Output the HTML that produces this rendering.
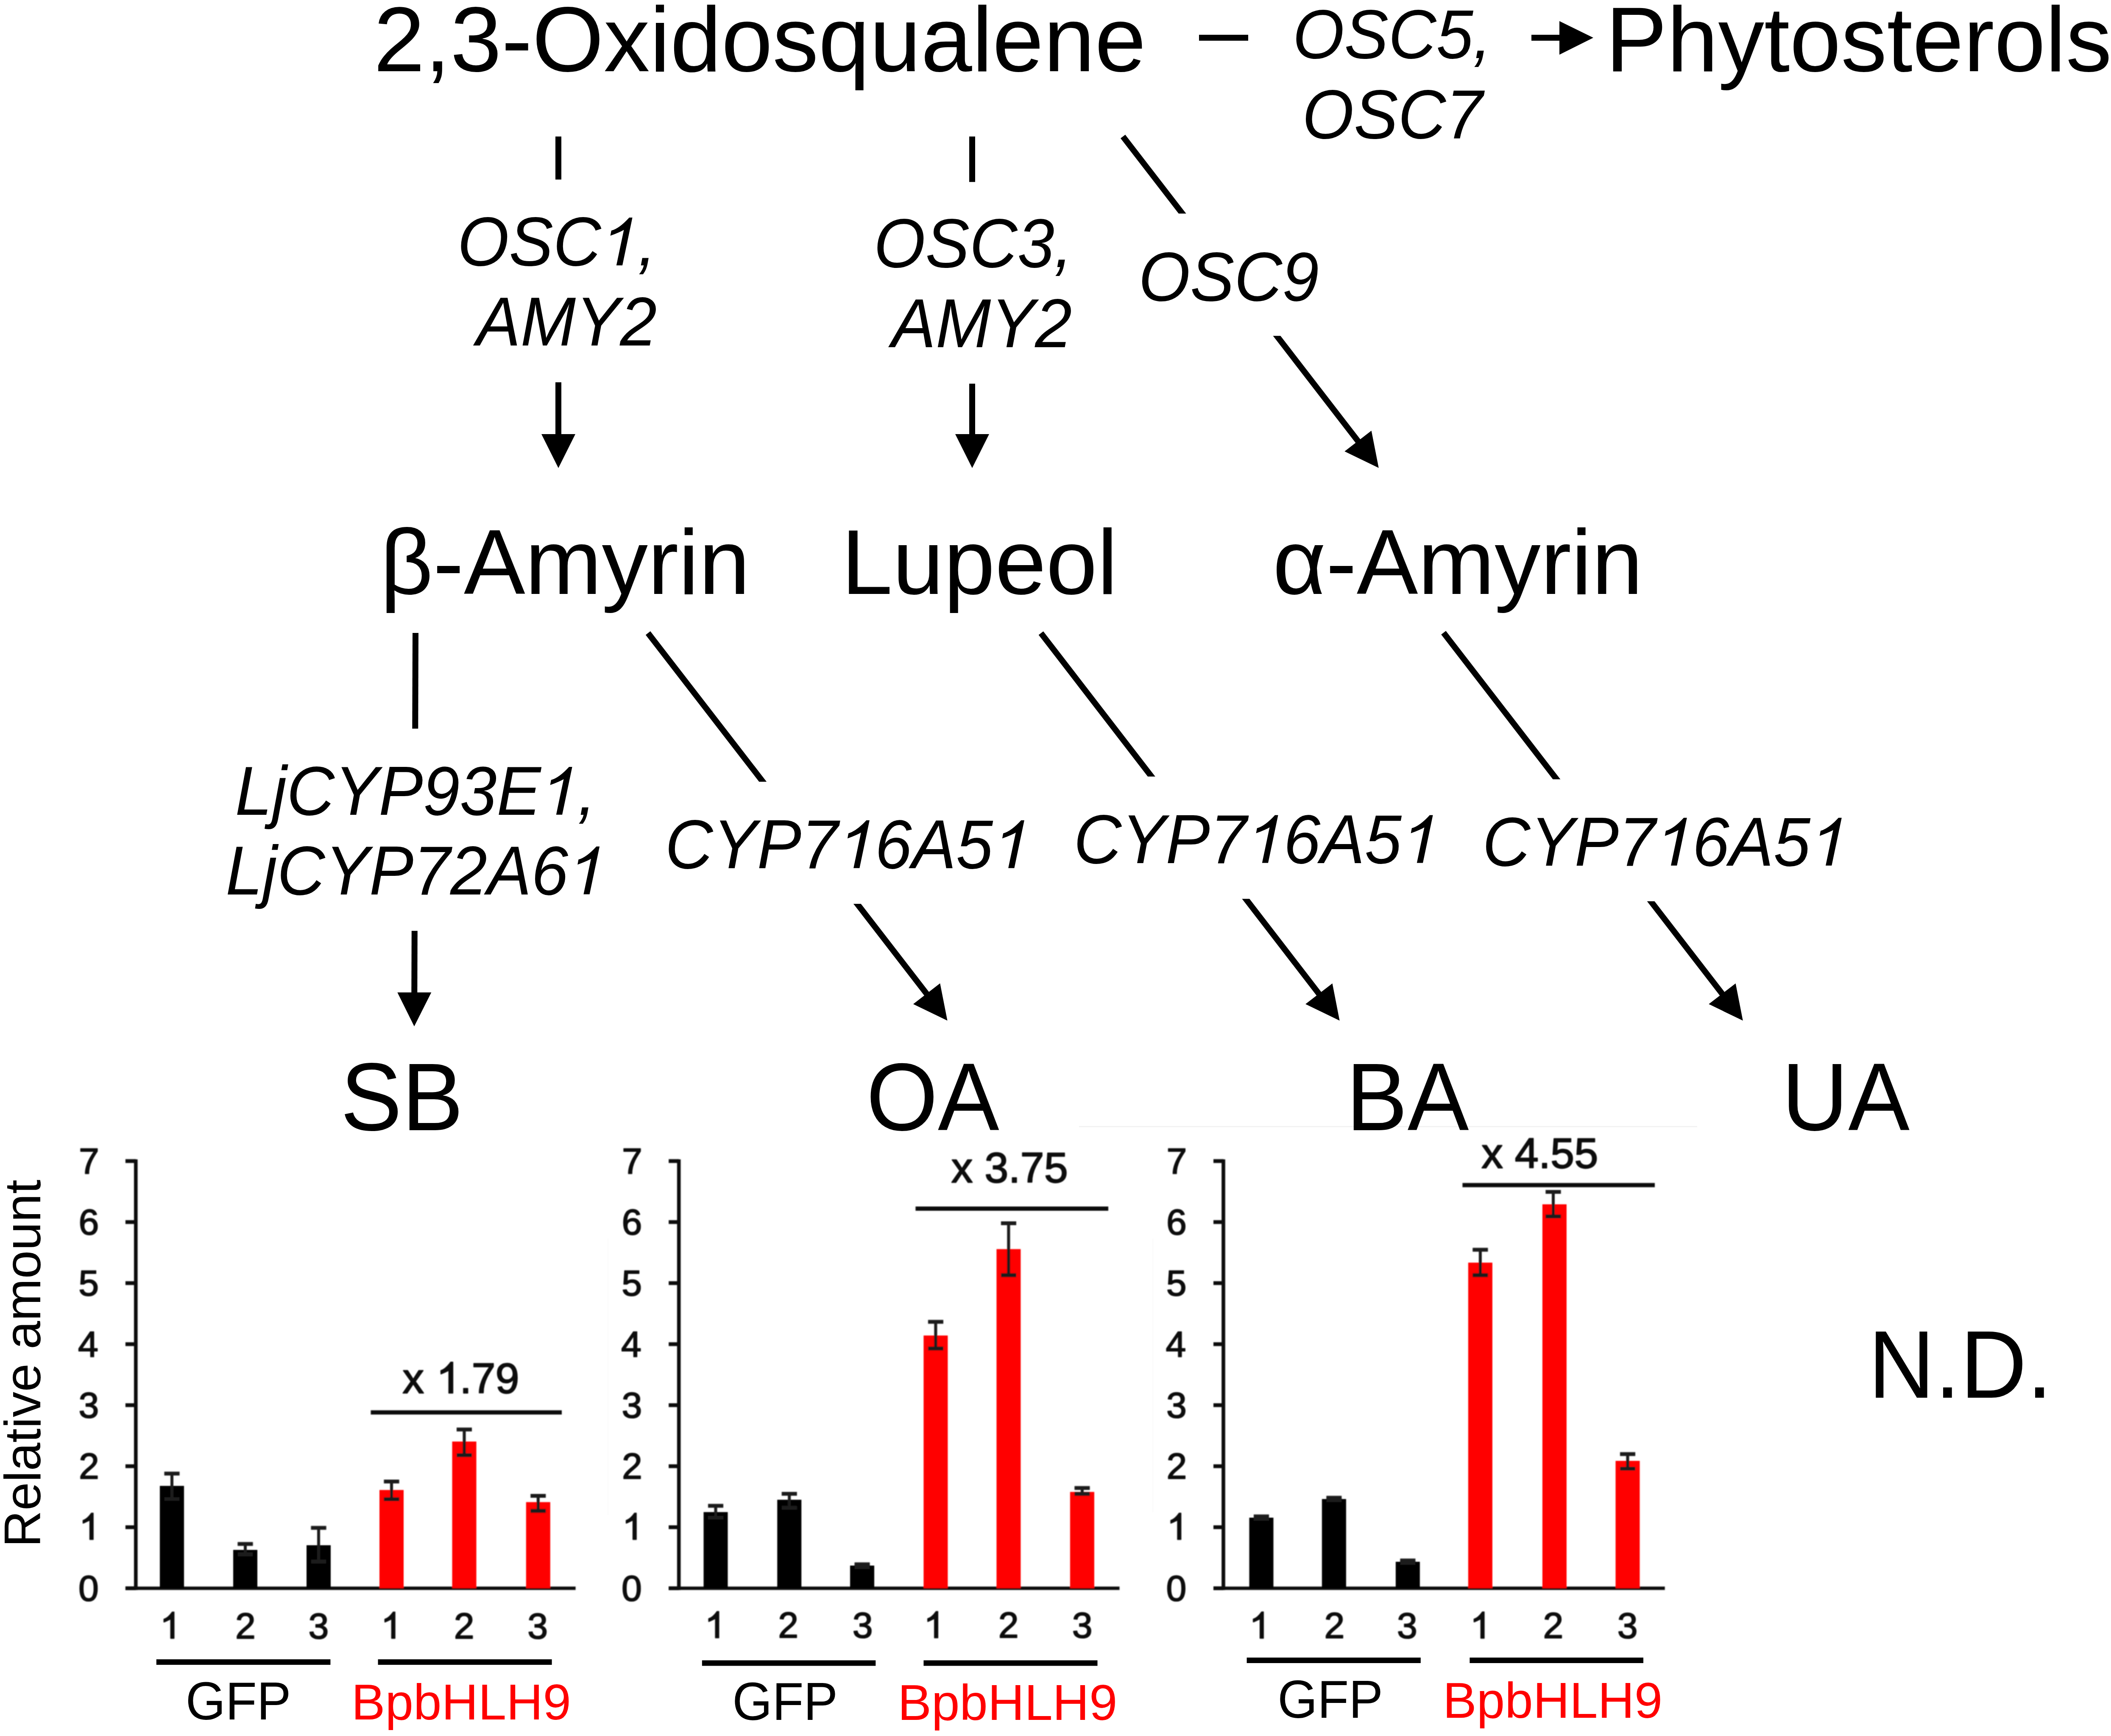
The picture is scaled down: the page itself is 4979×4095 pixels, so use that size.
<!DOCTYPE html>
<html><head><meta charset="utf-8"><style>
html,body{margin:0;padding:0;background:#fff;}
svg{position:absolute;left:0;top:0;display:block;}
text{font-family:"Liberation Sans",sans-serif;}
</style></head><body>
<svg width="4979" height="4095" viewBox="0 0 4979 4095">
<defs><clipPath id="c0"><rect x="0" y="300.0" width="4979" height="123.4"/><rect x="0" y="901.8" width="4979" height="298.2"/></clipPath><clipPath id="c1"><rect x="0" y="300.0" width="4979" height="129.3"/><rect x="0" y="905.0" width="4979" height="295.0"/></clipPath><clipPath id="c2"><rect x="0" y="300.0" width="4979" height="203.8"/><rect x="0" y="792.3" width="4979" height="407.7"/></clipPath><clipPath id="c3"><rect x="0" y="1480.0" width="4979" height="238.7"/><rect x="0" y="2195.8" width="4979" height="304.2"/></clipPath><clipPath id="c4"><rect x="0" y="1480.0" width="4979" height="364.1"/><rect x="0" y="2132.0" width="4979" height="368.0"/></clipPath><clipPath id="c5"><rect x="0" y="1480.0" width="4979" height="351.8"/><rect x="0" y="2120.3" width="4979" height="379.7"/></clipPath><clipPath id="c6"><rect x="0" y="1480.0" width="4979" height="358.2"/><rect x="0" y="2125.9" width="4979" height="374.1"/></clipPath><filter id="soft" x="-2%" y="-2%" width="104%" height="104%"><feGaussianBlur stdDeviation="1.3"/></filter></defs>
<rect width="4979" height="4095" fill="#fff"/>
<rect x="2828.0" y="82.0" width="116.0" height="14.0" fill="#000"/>
<rect x="3612.0" y="82.0" width="70.0" height="14.0" fill="#000"/>
<polygon points="3758,89 3678,49.8 3678,129" fill="#000"/>
<g clip-path="url(#c0)"><line x1="1317.0" y1="322.0" x2="1317.0" y2="1026.0" stroke="#000" stroke-width="14"/><polygon points="1317.0,1104.0 1277.0,1024.0 1357.0,1024.0" fill="#000"/></g>
<g clip-path="url(#c1)"><line x1="2293.0" y1="322.0" x2="2293.0" y2="1026.0" stroke="#000" stroke-width="14"/><polygon points="2293.0,1104.0 2253.0,1024.0 2333.0,1024.0" fill="#000"/></g>
<g clip-path="url(#c2)"><line x1="2648.5" y1="322.0" x2="3204.1" y2="1042.0" stroke="#000" stroke-width="14"/><polygon points="3251.8,1103.7 3171.3,1064.8 3234.6,1015.9" fill="#000"/></g>
<g clip-path="url(#c3)"><line x1="980.0" y1="1493.0" x2="977.3" y2="2343.0" stroke="#000" stroke-width="14"/><polygon points="977.0,2421.0 937.3,2340.9 1017.3,2341.1" fill="#000"/></g>
<g clip-path="url(#c4)"><line x1="1528.4" y1="1493.4" x2="2186.8" y2="2345.7" stroke="#000" stroke-width="14"/><polygon points="2234.5,2407.4 2153.9,2368.5 2217.2,2319.6" fill="#000"/></g>
<g clip-path="url(#c5)"><line x1="2455.2" y1="1493.4" x2="3112.0" y2="2345.7" stroke="#000" stroke-width="14"/><polygon points="3159.6,2407.5 3079.1,2368.5 3142.5,2319.7" fill="#000"/></g>
<g clip-path="url(#c6)"><line x1="3404.7" y1="1492.5" x2="4063.1" y2="2345.7" stroke="#000" stroke-width="14"/><polygon points="4110.8,2407.5 4030.3,2368.6 4093.6,2319.7" fill="#000"/></g>
<rect x="2545.0" y="2656.0" width="1458.0" height="3.0" fill="#f3f3f3"/>
<rect x="1433.5" y="2922.0" width="1.5" height="652.0" fill="#f9f9f9"/>
<rect x="2718.5" y="2922.0" width="1.5" height="645.0" fill="#f9f9f9"/>
<rect x="368.8" y="3914.1" width="410.6" height="13.0" fill="#000"/>
<rect x="891.5" y="3914.1" width="410.1" height="13.0" fill="#000"/>
<rect x="1655.8" y="3916.5" width="409.5" height="13.0" fill="#000"/>
<rect x="2178.4" y="3916.5" width="410.1" height="13.0" fill="#000"/>
<rect x="2940.6" y="3910.0" width="410.2" height="13.0" fill="#000"/>
<rect x="3466.4" y="3910.0" width="409.6" height="13.0" fill="#000"/>
<g transform="translate(881.3,167.5) scale(1,1.0)"><text x="0" y="0" font-size="217" fill="#000">2,3-Oxidosqualene</text></g>
<g transform="translate(3787.0,167.8) scale(1,1.0)"><text x="0" y="0" font-size="217" fill="#000">Phytosterols</text></g>
<g transform="translate(896.8,1400.7) scale(1,1.0)"><text x="0" y="0" font-size="217" fill="#000">β-Amyrin</text></g>
<g transform="translate(1984.6,1400.7) scale(1,1.0)"><text x="0" y="0" font-size="217" fill="#000">Lupeol</text></g>
<g transform="translate(3002.0,1400.7) scale(1,1.0)"><text x="0" y="0" font-size="217" fill="#000">α-Amyrin</text></g>
<g transform="translate(803.2,2665.7) scale(1,1.04)"><text x="0" y="0" font-size="217" fill="#000">SB</text></g>
<g transform="translate(2043.3,2665.5) scale(1,1.04)"><text x="0" y="0" font-size="217" fill="#000">OA</text></g>
<g transform="translate(3175.0,2665.7) scale(1,1.04)"><text x="0" y="0" font-size="217" fill="#000">BA</text></g>
<g transform="translate(4202.5,2665.7) scale(1,1.04)"><text x="0" y="0" font-size="217" fill="#000">UA</text></g>
<g transform="translate(4406.6,3296.6) scale(1,1.04)"><text x="0" y="0" font-size="217" fill="#000">N.D.</text></g>
<g transform="translate(3049.0,137.0) scale(1,1.04)"><text x="0" y="0" font-size="156.3" font-style="italic" fill="#000">OSC5,</text></g>
<g transform="translate(3071.6,325.6) scale(1,1.04)"><text x="0" y="0" font-size="156.3" font-style="italic" fill="#000">OSC7</text></g>
<g transform="translate(1079.0,626.0) scale(1,1.04)"><text x="0" y="0" font-size="156.3" font-style="italic" fill="#000">OSC&#x2007;,</text><path transform="translate(338.70,0) scale(0.07632,-0.07338)" d="M473,0 L659,0 L968,1478 L870,1478 Q567,1144 316,1073 L287,916 Q596,1031 704,1097 Z" fill="#000"/></g>
<g transform="translate(1123.6,814.6) scale(1,1.04)"><text x="0" y="0" font-size="156.3" font-style="italic" fill="#000">AMY2</text></g>
<g transform="translate(2061.0,630.0) scale(1,1.04)"><text x="0" y="0" font-size="156.3" font-style="italic" fill="#000">OSC3,</text></g>
<g transform="translate(2102.7,819.0) scale(1,1.04)"><text x="0" y="0" font-size="156.3" font-style="italic" fill="#000">AMY2</text></g>
<g transform="translate(2685.4,708.5) scale(1,1.04)"><text x="0" y="0" font-size="156.3" font-style="italic" fill="#000">OSC9</text></g>
<g transform="translate(554.6,1921.7) scale(1,1.04)"><text x="0" y="0" font-size="156.3" font-style="italic" fill="#000">LjCYP93E&#x2007;,</text><path transform="translate(721.13,0) scale(0.07632,-0.07338)" d="M473,0 L659,0 L968,1478 L870,1478 Q567,1144 316,1073 L287,916 Q596,1031 704,1097 Z" fill="#000"/></g>
<g transform="translate(532.2,2109.5) scale(1,1.04)"><text x="0" y="0" font-size="156.3" font-style="italic" fill="#000">LjCYP72A6&#x2007;</text><path transform="translate(808.06,0) scale(0.07632,-0.07338)" d="M473,0 L659,0 L968,1478 L870,1478 Q567,1144 316,1073 L287,916 Q596,1031 704,1097 Z" fill="#000"/></g>
<g transform="translate(1568.7,2047.7) scale(1,1.04)"><text x="0" y="0" font-size="156.3" font-style="italic" fill="#000">CYP7&#x2007;6A5&#x2007;</text><path transform="translate(408.30,0) scale(0.07632,-0.07338)" d="M473,0 L659,0 L968,1478 L870,1478 Q567,1144 316,1073 L287,916 Q596,1031 704,1097 Z" fill="#000"/><path transform="translate(773.33,0) scale(0.07632,-0.07338)" d="M473,0 L659,0 L968,1478 L870,1478 Q567,1144 316,1073 L287,916 Q596,1031 704,1097 Z" fill="#000"/></g>
<g transform="translate(2532.4,2035.5) scale(1,1.04)"><text x="0" y="0" font-size="156.3" font-style="italic" fill="#000">CYP7&#x2007;6A5&#x2007;</text><path transform="translate(408.30,0) scale(0.07632,-0.07338)" d="M473,0 L659,0 L968,1478 L870,1478 Q567,1144 316,1073 L287,916 Q596,1031 704,1097 Z" fill="#000"/><path transform="translate(773.33,0) scale(0.07632,-0.07338)" d="M473,0 L659,0 L968,1478 L870,1478 Q567,1144 316,1073 L287,916 Q596,1031 704,1097 Z" fill="#000"/></g>
<g transform="translate(3496.6,2041.7) scale(1,1.04)"><text x="0" y="0" font-size="156.3" font-style="italic" fill="#000">CYP7&#x2007;6A5&#x2007;</text><path transform="translate(408.30,0) scale(0.07632,-0.07338)" d="M473,0 L659,0 L968,1478 L870,1478 Q567,1144 316,1073 L287,916 Q596,1031 704,1097 Z" fill="#000"/><path transform="translate(773.33,0) scale(0.07632,-0.07338)" d="M473,0 L659,0 L968,1478 L870,1478 Q567,1144 316,1073 L287,916 Q596,1031 704,1097 Z" fill="#000"/></g>
<g transform="translate(437.7,4056.4) scale(1,1.04)"><text x="0" y="0" font-size="121" fill="#000">GFP</text></g>
<g transform="translate(828.8,4056.4) scale(1,1.0)"><text x="0" y="0" font-size="119.5" fill="#ff0000">BpbHLH9</text></g>
<g transform="translate(1727.3,4057.0) scale(1,1.04)"><text x="0" y="0" font-size="121" fill="#000">GFP</text></g>
<g transform="translate(2117.2,4057.0) scale(1,1.0)"><text x="0" y="0" font-size="119.5" fill="#ff0000">BpbHLH9</text></g>
<g transform="translate(3013.2,4052.0) scale(1,1.04)"><text x="0" y="0" font-size="121" fill="#000">GFP</text></g>
<g transform="translate(3403.1,4052.0) scale(1,1.0)"><text x="0" y="0" font-size="119.5" fill="#ff0000">BpbHLH9</text></g>
<text x="0" y="0" font-size="120" fill="#000" transform="translate(94.7,3649.7) rotate(-90)">Relative amount</text>
<g filter="url(#soft)">
<rect x="316.0" y="2734.8" width="8.6" height="1015.7" fill="#111"/>
<rect x="295.9" y="3742.5" width="1061.7" height="8.0" fill="#111"/>
<rect x="295.9" y="3742.0" width="24.4" height="9.0" fill="#111"/>
<rect x="295.9" y="3598.0" width="24.4" height="9.0" fill="#111"/>
<rect x="295.9" y="3454.1" width="24.4" height="9.0" fill="#111"/>
<rect x="295.9" y="3310.1" width="24.4" height="9.0" fill="#111"/>
<rect x="295.9" y="3166.2" width="24.4" height="9.0" fill="#111"/>
<rect x="295.9" y="3022.2" width="24.4" height="9.0" fill="#111"/>
<rect x="295.9" y="2878.2" width="24.4" height="9.0" fill="#111"/>
<rect x="295.9" y="2734.3" width="24.4" height="9.0" fill="#111"/>
<rect x="377.0" y="3505.0" width="57.0" height="241.5" fill="#000"/>
<rect x="550.0" y="3656.0" width="57.0" height="90.5" fill="#000"/>
<rect x="723.0" y="3645.0" width="57.0" height="101.5" fill="#000"/>
<rect x="895.0" y="3514.7" width="57.0" height="231.8" fill="#ff0000"/>
<rect x="1066.5" y="3400.4" width="57.0" height="346.1" fill="#ff0000"/>
<rect x="1240.8" y="3543.3" width="57.0" height="203.2" fill="#ff0000"/>
<rect x="402.0" y="3476.0" width="7.0" height="60.0" fill="#1a1a1a"/>
<rect x="387.5" y="3471.5" width="36.0" height="9.0" fill="#1a1a1a"/>
<rect x="387.5" y="3531.5" width="36.0" height="9.0" fill="#1a1a1a"/>
<rect x="575.0" y="3642.0" width="7.0" height="24.5" fill="#1a1a1a"/>
<rect x="560.5" y="3637.5" width="36.0" height="9.0" fill="#1a1a1a"/>
<rect x="560.5" y="3662.0" width="36.0" height="9.0" fill="#1a1a1a"/>
<rect x="748.0" y="3604.0" width="7.0" height="79.5" fill="#1a1a1a"/>
<rect x="733.5" y="3599.5" width="36.0" height="9.0" fill="#1a1a1a"/>
<rect x="733.5" y="3679.0" width="36.0" height="9.0" fill="#1a1a1a"/>
<rect x="920.0" y="3494.7" width="7.0" height="41.7" fill="#1a1a1a"/>
<rect x="905.5" y="3490.2" width="36.0" height="9.0" fill="#1a1a1a"/>
<rect x="905.5" y="3531.9" width="36.0" height="9.0" fill="#1a1a1a"/>
<rect x="1091.5" y="3372.0" width="7.0" height="60.6" fill="#1a1a1a"/>
<rect x="1077.0" y="3367.5" width="36.0" height="9.0" fill="#1a1a1a"/>
<rect x="1077.0" y="3428.1" width="36.0" height="9.0" fill="#1a1a1a"/>
<rect x="1265.8" y="3528.5" width="7.0" height="35.5" fill="#1a1a1a"/>
<rect x="1251.3" y="3524.0" width="36.0" height="9.0" fill="#1a1a1a"/>
<rect x="1251.3" y="3559.5" width="36.0" height="9.0" fill="#1a1a1a"/>
<rect x="874.5" y="3326.7" width="450.5" height="10.0" fill="#111"/>
<rect x="1596.9" y="2734.8" width="8.6" height="1015.7" fill="#111"/>
<rect x="1577.2" y="3742.5" width="1063.3" height="8.0" fill="#111"/>
<rect x="1577.2" y="3742.0" width="24.0" height="9.0" fill="#111"/>
<rect x="1577.2" y="3598.0" width="24.0" height="9.0" fill="#111"/>
<rect x="1577.2" y="3454.1" width="24.0" height="9.0" fill="#111"/>
<rect x="1577.2" y="3310.1" width="24.0" height="9.0" fill="#111"/>
<rect x="1577.2" y="3166.2" width="24.0" height="9.0" fill="#111"/>
<rect x="1577.2" y="3022.2" width="24.0" height="9.0" fill="#111"/>
<rect x="1577.2" y="2878.2" width="24.0" height="9.0" fill="#111"/>
<rect x="1577.2" y="2734.3" width="24.0" height="9.0" fill="#111"/>
<rect x="1659.5" y="3566.8" width="57.0" height="179.7" fill="#000"/>
<rect x="1833.2" y="3537.7" width="57.0" height="208.8" fill="#000"/>
<rect x="2005.0" y="3693.0" width="57.0" height="53.5" fill="#000"/>
<rect x="2178.4" y="3150.3" width="57.0" height="596.2" fill="#ff0000"/>
<rect x="2350.4" y="2946.5" width="57.0" height="800.0" fill="#ff0000"/>
<rect x="2523.9" y="3519.3" width="57.0" height="227.2" fill="#ff0000"/>
<rect x="1684.5" y="3552.0" width="7.0" height="28.0" fill="#1a1a1a"/>
<rect x="1670.0" y="3547.5" width="36.0" height="9.0" fill="#1a1a1a"/>
<rect x="1670.0" y="3575.5" width="36.0" height="9.0" fill="#1a1a1a"/>
<rect x="1858.2" y="3523.7" width="7.0" height="32.9" fill="#1a1a1a"/>
<rect x="1843.7" y="3519.2" width="36.0" height="9.0" fill="#1a1a1a"/>
<rect x="1843.7" y="3552.1" width="36.0" height="9.0" fill="#1a1a1a"/>
<rect x="2030.0" y="3690.0" width="7.0" height="7.0" fill="#1a1a1a"/>
<rect x="2015.5" y="3685.5" width="36.0" height="9.0" fill="#1a1a1a"/>
<rect x="2015.5" y="3692.5" width="36.0" height="9.0" fill="#1a1a1a"/>
<rect x="2203.4" y="3118.0" width="7.0" height="63.0" fill="#1a1a1a"/>
<rect x="2188.9" y="3113.5" width="36.0" height="9.0" fill="#1a1a1a"/>
<rect x="2188.9" y="3176.5" width="36.0" height="9.0" fill="#1a1a1a"/>
<rect x="2375.4" y="2885.5" width="7.0" height="122.5" fill="#1a1a1a"/>
<rect x="2360.9" y="2881.0" width="36.0" height="9.0" fill="#1a1a1a"/>
<rect x="2360.9" y="3003.5" width="36.0" height="9.0" fill="#1a1a1a"/>
<rect x="2548.9" y="3510.0" width="7.0" height="14.0" fill="#1a1a1a"/>
<rect x="2534.4" y="3505.5" width="36.0" height="9.0" fill="#1a1a1a"/>
<rect x="2534.4" y="3519.5" width="36.0" height="9.0" fill="#1a1a1a"/>
<rect x="2159.4" y="2846.0" width="454.6" height="10.0" fill="#111"/>
<rect x="2881.2" y="2734.8" width="8.6" height="1015.7" fill="#111"/>
<rect x="2862.0" y="3742.5" width="1064.7" height="8.0" fill="#111"/>
<rect x="2862.0" y="3742.0" width="23.5" height="9.0" fill="#111"/>
<rect x="2862.0" y="3598.0" width="23.5" height="9.0" fill="#111"/>
<rect x="2862.0" y="3454.1" width="23.5" height="9.0" fill="#111"/>
<rect x="2862.0" y="3310.1" width="23.5" height="9.0" fill="#111"/>
<rect x="2862.0" y="3166.2" width="23.5" height="9.0" fill="#111"/>
<rect x="2862.0" y="3022.2" width="23.5" height="9.0" fill="#111"/>
<rect x="2862.0" y="2878.2" width="23.5" height="9.0" fill="#111"/>
<rect x="2862.0" y="2734.3" width="23.5" height="9.0" fill="#111"/>
<rect x="2946.5" y="3580.0" width="57.0" height="166.5" fill="#000"/>
<rect x="3117.9" y="3536.0" width="57.0" height="210.5" fill="#000"/>
<rect x="3291.9" y="3684.0" width="57.0" height="62.5" fill="#000"/>
<rect x="3462.9" y="2978.4" width="57.0" height="768.1" fill="#ff0000"/>
<rect x="3637.9" y="2840.8" width="57.0" height="905.7" fill="#ff0000"/>
<rect x="3810.5" y="3446.0" width="57.0" height="300.5" fill="#ff0000"/>
<rect x="2971.5" y="3577.0" width="7.0" height="6.0" fill="#1a1a1a"/>
<rect x="2957.0" y="3572.5" width="36.0" height="9.0" fill="#1a1a1a"/>
<rect x="2957.0" y="3578.5" width="36.0" height="9.0" fill="#1a1a1a"/>
<rect x="3142.9" y="3533.0" width="7.0" height="6.0" fill="#1a1a1a"/>
<rect x="3128.4" y="3528.5" width="36.0" height="9.0" fill="#1a1a1a"/>
<rect x="3128.4" y="3534.5" width="36.0" height="9.0" fill="#1a1a1a"/>
<rect x="3316.9" y="3681.0" width="7.0" height="6.0" fill="#1a1a1a"/>
<rect x="3302.4" y="3676.5" width="36.0" height="9.0" fill="#1a1a1a"/>
<rect x="3302.4" y="3682.5" width="36.0" height="9.0" fill="#1a1a1a"/>
<rect x="3487.9" y="2948.0" width="7.0" height="60.0" fill="#1a1a1a"/>
<rect x="3473.4" y="2943.5" width="36.0" height="9.0" fill="#1a1a1a"/>
<rect x="3473.4" y="3003.5" width="36.0" height="9.0" fill="#1a1a1a"/>
<rect x="3660.0" y="2811.5" width="7.0" height="57.8" fill="#1a1a1a"/>
<rect x="3645.5" y="2807.0" width="36.0" height="9.0" fill="#1a1a1a"/>
<rect x="3645.5" y="2864.8" width="36.0" height="9.0" fill="#1a1a1a"/>
<rect x="3835.5" y="3430.0" width="7.0" height="34.5" fill="#1a1a1a"/>
<rect x="3821.0" y="3425.5" width="36.0" height="9.0" fill="#1a1a1a"/>
<rect x="3821.0" y="3460.0" width="36.0" height="9.0" fill="#1a1a1a"/>
<rect x="3449.4" y="2790.5" width="453.6" height="10.0" fill="#111"/>
<g transform="translate(185.0,3775.5) scale(1,1.0)"><text x="0" y="0" font-size="86" fill="#111" stroke="#111" stroke-width="2.2" stroke-linejoin="round">0</text></g>
<g transform="translate(185.9,3631.5) scale(1,1.0)"><text x="0" y="0" font-size="86" fill="#111" stroke="#111" stroke-width="2.2" stroke-linejoin="round">&#x2007;</text><path transform="translate(0.00,0) scale(0.04199,-0.04199)" d="M620,0 L806,0 L805,1478 L707,1478 Q474,1144 238,1073 L242,916 Q527,1031 621,1097 Z" fill="#111" stroke="#111" stroke-width="52.4" stroke-linejoin="round"/></g>
<g transform="translate(186.1,3487.6) scale(1,1.0)"><text x="0" y="0" font-size="86" fill="#111" stroke="#111" stroke-width="2.2" stroke-linejoin="round">2</text></g>
<g transform="translate(185.4,3343.6) scale(1,1.0)"><text x="0" y="0" font-size="86" fill="#111" stroke="#111" stroke-width="2.2" stroke-linejoin="round">3</text></g>
<g transform="translate(184.1,3199.7) scale(1,1.0)"><text x="0" y="0" font-size="86" fill="#111" stroke="#111" stroke-width="2.2" stroke-linejoin="round">4</text></g>
<g transform="translate(185.2,3055.7) scale(1,1.0)"><text x="0" y="0" font-size="86" fill="#111" stroke="#111" stroke-width="2.2" stroke-linejoin="round">5</text></g>
<g transform="translate(185.4,2911.7) scale(1,1.0)"><text x="0" y="0" font-size="86" fill="#111" stroke="#111" stroke-width="2.2" stroke-linejoin="round">6</text></g>
<g transform="translate(186.1,2767.8) scale(1,1.0)"><text x="0" y="0" font-size="86" fill="#111" stroke="#111" stroke-width="2.2" stroke-linejoin="round">7</text></g>
<g transform="translate(949.6,3286.0) scale(1,1.0)"><text x="0" y="0" font-size="101" fill="#111" stroke="#111" stroke-width="2.4" stroke-linejoin="round">x &#x2007;.79</text><path transform="translate(78.56,0) scale(0.04932,-0.04932)" d="M620,0 L806,0 L805,1478 L707,1478 Q474,1144 238,1073 L242,916 Q527,1031 621,1097 Z" fill="#111" stroke="#111" stroke-width="48.7" stroke-linejoin="round"/></g>
<g transform="translate(376.6,3864.6) scale(1,1.0)"><text x="0" y="0" font-size="86" fill="#111" stroke="#111" stroke-width="2.2" stroke-linejoin="round">&#x2007;</text><path transform="translate(0.00,0) scale(0.04199,-0.04199)" d="M620,0 L806,0 L805,1478 L707,1478 Q474,1144 238,1073 L242,916 Q527,1031 621,1097 Z" fill="#111" stroke="#111" stroke-width="52.4" stroke-linejoin="round"/></g>
<g transform="translate(554.9,3864.6) scale(1,1.0)"><text x="0" y="0" font-size="86" fill="#111" stroke="#111" stroke-width="2.2" stroke-linejoin="round">2</text></g>
<g transform="translate(727.4,3864.6) scale(1,1.0)"><text x="0" y="0" font-size="86" fill="#111" stroke="#111" stroke-width="2.2" stroke-linejoin="round">3</text></g>
<g transform="translate(897.7,3864.6) scale(1,1.0)"><text x="0" y="0" font-size="86" fill="#111" stroke="#111" stroke-width="2.2" stroke-linejoin="round">&#x2007;</text><path transform="translate(0.00,0) scale(0.04199,-0.04199)" d="M620,0 L806,0 L805,1478 L707,1478 Q474,1144 238,1073 L242,916 Q527,1031 621,1097 Z" fill="#111" stroke="#111" stroke-width="52.4" stroke-linejoin="round"/></g>
<g transform="translate(1070.8,3864.6) scale(1,1.0)"><text x="0" y="0" font-size="86" fill="#111" stroke="#111" stroke-width="2.2" stroke-linejoin="round">2</text></g>
<g transform="translate(1244.3,3864.6) scale(1,1.0)"><text x="0" y="0" font-size="86" fill="#111" stroke="#111" stroke-width="2.2" stroke-linejoin="round">3</text></g>
<g transform="translate(1466.0,3775.5) scale(1,1.0)"><text x="0" y="0" font-size="86" fill="#111" stroke="#111" stroke-width="2.2" stroke-linejoin="round">0</text></g>
<g transform="translate(1466.9,3631.5) scale(1,1.0)"><text x="0" y="0" font-size="86" fill="#111" stroke="#111" stroke-width="2.2" stroke-linejoin="round">&#x2007;</text><path transform="translate(0.00,0) scale(0.04199,-0.04199)" d="M620,0 L806,0 L805,1478 L707,1478 Q474,1144 238,1073 L242,916 Q527,1031 621,1097 Z" fill="#111" stroke="#111" stroke-width="52.4" stroke-linejoin="round"/></g>
<g transform="translate(1467.1,3487.6) scale(1,1.0)"><text x="0" y="0" font-size="86" fill="#111" stroke="#111" stroke-width="2.2" stroke-linejoin="round">2</text></g>
<g transform="translate(1466.4,3343.6) scale(1,1.0)"><text x="0" y="0" font-size="86" fill="#111" stroke="#111" stroke-width="2.2" stroke-linejoin="round">3</text></g>
<g transform="translate(1465.1,3199.7) scale(1,1.0)"><text x="0" y="0" font-size="86" fill="#111" stroke="#111" stroke-width="2.2" stroke-linejoin="round">4</text></g>
<g transform="translate(1466.2,3055.7) scale(1,1.0)"><text x="0" y="0" font-size="86" fill="#111" stroke="#111" stroke-width="2.2" stroke-linejoin="round">5</text></g>
<g transform="translate(1466.4,2911.7) scale(1,1.0)"><text x="0" y="0" font-size="86" fill="#111" stroke="#111" stroke-width="2.2" stroke-linejoin="round">6</text></g>
<g transform="translate(1467.1,2767.8) scale(1,1.0)"><text x="0" y="0" font-size="86" fill="#111" stroke="#111" stroke-width="2.2" stroke-linejoin="round">7</text></g>
<g transform="translate(2243.7,2789.3) scale(1,1.0)"><text x="0" y="0" font-size="101" fill="#111" stroke="#111" stroke-width="2.4" stroke-linejoin="round">x 3.75</text></g>
<g transform="translate(1661.5,3863.4) scale(1,1.0)"><text x="0" y="0" font-size="86" fill="#111" stroke="#111" stroke-width="2.2" stroke-linejoin="round">&#x2007;</text><path transform="translate(0.00,0) scale(0.04199,-0.04199)" d="M620,0 L806,0 L805,1478 L707,1478 Q474,1144 238,1073 L242,916 Q527,1031 621,1097 Z" fill="#111" stroke="#111" stroke-width="52.4" stroke-linejoin="round"/></g>
<g transform="translate(1835.3,3863.4) scale(1,1.0)"><text x="0" y="0" font-size="86" fill="#111" stroke="#111" stroke-width="2.2" stroke-linejoin="round">2</text></g>
<g transform="translate(2010.7,3863.4) scale(1,1.0)"><text x="0" y="0" font-size="86" fill="#111" stroke="#111" stroke-width="2.2" stroke-linejoin="round">3</text></g>
<g transform="translate(2178.1,3863.4) scale(1,1.0)"><text x="0" y="0" font-size="86" fill="#111" stroke="#111" stroke-width="2.2" stroke-linejoin="round">&#x2007;</text><path transform="translate(0.00,0) scale(0.04199,-0.04199)" d="M620,0 L806,0 L805,1478 L707,1478 Q474,1144 238,1073 L242,916 Q527,1031 621,1097 Z" fill="#111" stroke="#111" stroke-width="52.4" stroke-linejoin="round"/></g>
<g transform="translate(2354.7,3863.4) scale(1,1.0)"><text x="0" y="0" font-size="86" fill="#111" stroke="#111" stroke-width="2.2" stroke-linejoin="round">2</text></g>
<g transform="translate(2528.7,3863.4) scale(1,1.0)"><text x="0" y="0" font-size="86" fill="#111" stroke="#111" stroke-width="2.2" stroke-linejoin="round">3</text></g>
<g transform="translate(2750.5,3775.5) scale(1,1.0)"><text x="0" y="0" font-size="86" fill="#111" stroke="#111" stroke-width="2.2" stroke-linejoin="round">0</text></g>
<g transform="translate(2751.4,3631.5) scale(1,1.0)"><text x="0" y="0" font-size="86" fill="#111" stroke="#111" stroke-width="2.2" stroke-linejoin="round">&#x2007;</text><path transform="translate(0.00,0) scale(0.04199,-0.04199)" d="M620,0 L806,0 L805,1478 L707,1478 Q474,1144 238,1073 L242,916 Q527,1031 621,1097 Z" fill="#111" stroke="#111" stroke-width="52.4" stroke-linejoin="round"/></g>
<g transform="translate(2751.6,3487.6) scale(1,1.0)"><text x="0" y="0" font-size="86" fill="#111" stroke="#111" stroke-width="2.2" stroke-linejoin="round">2</text></g>
<g transform="translate(2750.9,3343.6) scale(1,1.0)"><text x="0" y="0" font-size="86" fill="#111" stroke="#111" stroke-width="2.2" stroke-linejoin="round">3</text></g>
<g transform="translate(2749.6,3199.7) scale(1,1.0)"><text x="0" y="0" font-size="86" fill="#111" stroke="#111" stroke-width="2.2" stroke-linejoin="round">4</text></g>
<g transform="translate(2750.7,3055.7) scale(1,1.0)"><text x="0" y="0" font-size="86" fill="#111" stroke="#111" stroke-width="2.2" stroke-linejoin="round">5</text></g>
<g transform="translate(2750.9,2911.7) scale(1,1.0)"><text x="0" y="0" font-size="86" fill="#111" stroke="#111" stroke-width="2.2" stroke-linejoin="round">6</text></g>
<g transform="translate(2751.6,2767.8) scale(1,1.0)"><text x="0" y="0" font-size="86" fill="#111" stroke="#111" stroke-width="2.2" stroke-linejoin="round">7</text></g>
<g transform="translate(3494.3,2754.7) scale(1,1.0)"><text x="0" y="0" font-size="101" fill="#111" stroke="#111" stroke-width="2.4" stroke-linejoin="round">x 4.55</text></g>
<g transform="translate(2946.0,3864.4) scale(1,1.0)"><text x="0" y="0" font-size="86" fill="#111" stroke="#111" stroke-width="2.2" stroke-linejoin="round">&#x2007;</text><path transform="translate(0.00,0) scale(0.04199,-0.04199)" d="M620,0 L806,0 L805,1478 L707,1478 Q474,1144 238,1073 L242,916 Q527,1031 621,1097 Z" fill="#111" stroke="#111" stroke-width="52.4" stroke-linejoin="round"/></g>
<g transform="translate(3123.6,3864.4) scale(1,1.0)"><text x="0" y="0" font-size="86" fill="#111" stroke="#111" stroke-width="2.2" stroke-linejoin="round">2</text></g>
<g transform="translate(3295.0,3864.4) scale(1,1.0)"><text x="0" y="0" font-size="86" fill="#111" stroke="#111" stroke-width="2.2" stroke-linejoin="round">3</text></g>
<g transform="translate(3466.7,3864.4) scale(1,1.0)"><text x="0" y="0" font-size="86" fill="#111" stroke="#111" stroke-width="2.2" stroke-linejoin="round">&#x2007;</text><path transform="translate(0.00,0) scale(0.04199,-0.04199)" d="M620,0 L806,0 L805,1478 L707,1478 Q474,1144 238,1073 L242,916 Q527,1031 621,1097 Z" fill="#111" stroke="#111" stroke-width="52.4" stroke-linejoin="round"/></g>
<g transform="translate(3639.6,3864.4) scale(1,1.0)"><text x="0" y="0" font-size="86" fill="#111" stroke="#111" stroke-width="2.2" stroke-linejoin="round">2</text></g>
<g transform="translate(3814.8,3864.4) scale(1,1.0)"><text x="0" y="0" font-size="86" fill="#111" stroke="#111" stroke-width="2.2" stroke-linejoin="round">3</text></g>
</g>
</svg></body></html>
